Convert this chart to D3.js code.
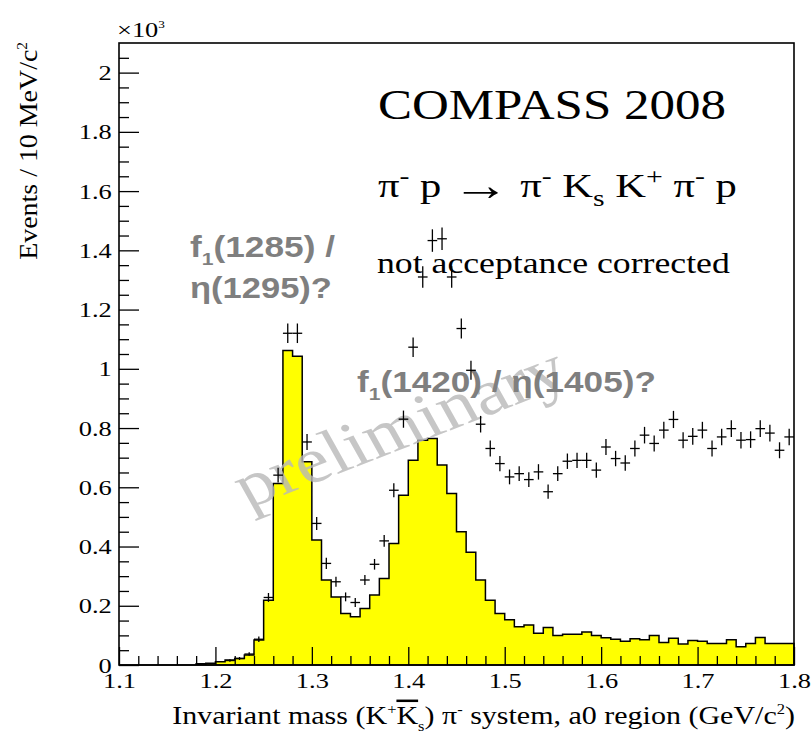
<!DOCTYPE html>
<html><head><meta charset="utf-8">
<script src="https://cdn.jsdelivr.net/npm/d3@7"></script>
<style>body{margin:0;background:#fff}</style>
</head><body>
<svg id="c" width="811" height="733"></svg>
<script>
// ---- data ----
const binLow = [1.10,1.11,1.12,1.13,1.14,1.15,1.16,1.17,1.18,1.19,1.20,1.21,1.22,1.23,1.24,1.25,1.26,1.27,1.28,1.29,
  1.30,1.31,1.32,1.33,1.34,1.35,1.36,1.37,1.38,1.39,1.40,1.41,1.42,1.43,1.44,1.45,1.46,1.47,1.48,1.49,
  1.50,1.51,1.52,1.53,1.54,1.55,1.56,1.57,1.58,1.59,1.60,1.61,1.62,1.63,1.64,1.65,1.66,1.67,1.68,1.69,
  1.70,1.71,1.72,1.73,1.74,1.75,1.76,1.77,1.78,1.79];
const binWidth = 0.01;
const histValues = [0,0,0,0,0,0,0,0,0.004,0.006,
  0.011,0.017,0.022,0.034,0.084,0.219,0.613,1.062,1.042,0.686,
  0.422,0.287,0.230,0.174,0.163,0.191,0.236,0.292,0.410,0.573,
  0.691,0.759,0.765,0.675,0.579,0.450,0.381,0.287,0.219,0.174,
  0.153,0.129,0.135,0.107,0.127,0.100,0.104,0.104,0.111,0.100,
  0.092,0.087,0.080,0.089,0.085,0.100,0.076,0.090,0.071,0.083,
  0.080,0.073,0.073,0.085,0.062,0.073,0.093,0.073,0.073,0.073];
const pointMass = [1.215,1.225,1.235,1.245,1.255,1.265,1.275,1.285,1.295,1.305,
  1.315,1.325,1.335,1.345,1.355,1.365,1.375,1.385,1.395,1.405,
  1.415,1.425,1.435,1.445,1.455,1.465,1.475,1.485,1.495,1.505,
  1.515,1.525,1.535,1.545,1.555,1.565,1.575,1.585,1.595,1.605,
  1.615,1.625,1.635,1.645,1.655,1.665,1.675,1.685,1.695,1.705,
  1.715,1.725,1.735,1.745,1.755,1.765,1.775,1.785,1.795];
const pointValues = [0.015,0.022,0.037,0.087,0.228,0.641,1.120,1.120,0.753,0.478,
  0.343,0.281,0.230,0.211,0.287,0.340,0.419,0.590,0.830,1.073,
  1.310,1.433,1.439,1.310,1.136,0.995,0.813,0.731,0.680,0.635,
  0.646,0.626,0.652,0.585,0.646,0.688,0.691,0.691,0.658,0.736,
  0.697,0.682,0.731,0.776,0.748,0.793,0.829,0.759,0.772,0.793,
  0.731,0.770,0.798,0.759,0.761,0.798,0.783,0.725,0.770];
const pointErrors = [0.004,0.005,0.006,0.009,0.015,0.025,0.033,0.033,0.027,0.022,
  0.019,0.017,0.015,0.015,0.017,0.018,0.020,0.024,0.029,0.033,
  0.036,0.038,0.038,0.036,0.034,0.032,0.028,0.027,0.026,0.025,
  0.025,0.025,0.026,0.024,0.025,0.026,0.026,0.026,0.026,0.027,
  0.026,0.026,0.027,0.028,0.027,0.028,0.029,0.027,0.028,0.028,
  0.027,0.028,0.028,0.028,0.028,0.028,0.028,0.027,0.028];
const xMajorTicks = [1.1,1.2,1.3,1.4,1.5,1.6,1.7,1.8];
const xMinorTicks = [1.12,1.14,1.16,1.18,1.22,1.24,1.26,1.28,1.32,1.34,1.36,1.38,1.42,1.44,1.46,1.48,
  1.52,1.54,1.56,1.58,1.62,1.64,1.66,1.68,1.72,1.74,1.76,1.78];
const yMajorTicks = [0,0.2,0.4,0.6,0.8,1.0,1.2,1.4,1.6,1.8,2.0];
const yMajorLabels = ["0","0.2","0.4","0.6","0.8","1","1.2","1.4","1.6","1.8","2"];
const yMinorTicks = [0.05,0.1,0.15,0.25,0.3,0.35,0.45,0.5,0.55,0.65,0.7,0.75,0.85,0.9,0.95,1.05,1.1,1.15,
  1.25,1.3,1.35,1.45,1.5,1.55,1.65,1.7,1.75,1.85,1.9,1.95,2.05];

// ---- layout ----
const L = 119, R = 794, T = 43, B = 665;
const svg = d3.select('#c');
const x = d3.scaleLinear().domain([1.1, 1.8]).range([L, R]);
const y = d3.scaleLinear().domain([0, 2.1]).range([B, T]);
const SERIF = "'Liberation Serif','Times New Roman',serif";
const SANS = "'Liberation Sans',Arial,sans-serif";

function richText(parts, o) {
  const t = svg.append('text')
    .attr('font-family', o.family).attr('font-size', o.size)
    .attr('font-weight', o.weight || 'normal').attr('fill', o.fill || '#000')
    .attr('text-anchor', o.anchor || 'start');
  if (o.opacity) t.attr('fill-opacity', o.opacity);
  let shift = 0;
  parts.forEach(p => {
    const [s, kind] = Array.isArray(p) ? p : [p, null];
    const target = kind === 'sup' ? -0.4 * o.size : kind === 'sub' ? 0.28 * o.size : 0;
    const ts = t.append('tspan').text(s).attr('dy', target - shift);
    if (kind === 'sup' || kind === 'sub') ts.attr('font-size', o.size * (o.small || 0.6));
    if (kind === 'bar') ts.style('text-decoration', 'overline');
    if (kind === 'big') ts.attr('font-size', o.size * 1.35).attr('dy', o.size * 0.08 - shift);
    shift = kind === 'big' ? o.size * 0.08 : target;
  });
  let sx = o.sx || 1;
  if (o.width) sx = o.width / t.node().getBBox().width;
  t.attr('transform', o.stretchFirst
    ? `translate(${o.x},${o.y}) scale(${sx},1) rotate(${o.rot || 0})`
    : `translate(${o.x},${o.y}) rotate(${o.rot || 0}) scale(${sx},1)`);
  return t;
}

// ---- histogram ----
const pts = [[x(binLow[0]), y(0)]];
binLow.forEach((lo, i) => {
  pts.push([x(lo), y(histValues[i])]);
  pts.push([x(lo + binWidth), y(histValues[i])]);
});
pts.push([x(binLow[binLow.length - 1] + binWidth), y(0)]);
svg.append('path').attr('d', d3.line()(pts) + 'Z')
  .attr('fill', '#ffff00').attr('stroke', '#000').attr('stroke-width', 1.5)
  .attr('stroke-linejoin', 'miter');

// ---- watermark ----
richText(['preliminary'], {x: 410, y: 446, size: 64, family: SERIF, fill: '#b8b8b8',
  opacity: 0.8, anchor: 'middle', rot: -25, sx: 1.2, stretchFirst: true});

// ---- annotations ----
richText(['COMPASS 2008'], {x: 378, y: 119, size: 42, family: SERIF, width: 348});
richText(['π', ['-', 'sup'], ' p ', ['→', 'big'], ' π', ['-', 'sup'], ' K', ['s', 'sub'], ' K', ['+', 'sup'], ' π', ['-', 'sup'], ' p'],
  {x: 378, y: 197, size: 33, family: SERIF, width: 359, small: 0.7});
richText(['not acceptance corrected'], {x: 377, y: 273, size: 30, family: SERIF, width: 353});
const grey = '#7f7f7f';
richText(['f', ['1', 'sub'], '(1285) /'], {x: 190, y: 257, size: 29, family: SANS, weight: 'bold', fill: grey, width: 145});
richText(['η(1295)?'], {x: 190, y: 298, size: 29, family: SANS, weight: 'bold', fill: grey, width: 142});
richText(['f', ['1', 'sub'], '(1420) / η(1405)?'], {x: 357, y: 392, size: 29, family: SANS, weight: 'bold', fill: grey, width: 299});

// ---- data points ----
const pg = svg.append('g').attr('stroke', '#000').attr('stroke-width', 1.3);
pointMass.forEach((m, i) => {
  pg.append('line').attr('x1', x(m - binWidth / 2)).attr('x2', x(m + binWidth / 2))
    .attr('y1', y(pointValues[i])).attr('y2', y(pointValues[i]));
  pg.append('line').attr('x1', x(m)).attr('x2', x(m))
    .attr('y1', y(pointValues[i] - pointErrors[i])).attr('y2', y(pointValues[i] + pointErrors[i]));
});

// ---- axes ----
const gx = svg.append('g').attr('transform', `translate(0,${B})`)
  .call(d3.axisBottom(x).tickValues(xMajorTicks).tickSize(-18).tickPadding(7).tickFormat(d3.format('.1f')));
const gxm = svg.append('g').attr('transform', `translate(0,${B})`)
  .call(d3.axisBottom(x).tickValues(xMinorTicks).tickSize(-9).tickFormat(''));
const gy = svg.append('g').attr('transform', `translate(${L},0)`)
  .call(d3.axisLeft(y).tickValues(yMajorTicks).tickSize(-20).tickPadding(6).tickFormat((d, i) => yMajorLabels[i]));
const gym = svg.append('g').attr('transform', `translate(${L},0)`)
  .call(d3.axisLeft(y).tickValues(yMinorTicks).tickSize(-10).tickFormat(''));
[gx, gxm, gy, gym].forEach(g => {
  g.select('.domain').remove();
  g.selectAll('line').attr('stroke', '#000').attr('stroke-width', 1.3);
  g.selectAll('text').attr('font-family', SERIF).attr('font-size', 22).attr('fill', '#000')
    .attr('transform', 'scale(1.2,1)');
});
svg.append('rect').attr('x', L).attr('y', T).attr('width', R - L).attr('height', B - T)
  .attr('fill', 'none').attr('stroke', '#000').attr('stroke-width', 1.6);

// ---- axis titles ----
richText(['×10', ['3', 'sup']], {x: 117, y: 37, size: 22, family: SERIF, sx: 1.2, small: 0.5});
richText(['Invariant mass (K', ['+', 'sup'], ['K', 'bar'], ['s', 'sub'], ') π', ['-', 'sup'], ' system, a0 region (GeV/c', ['2', 'sup'], ')'],
  {x: 795, y: 724, size: 25, family: SERIF, anchor: 'end', width: 623, small: 0.55});
richText(['Events / 10 MeV/c', ['2', 'sup']], {x: 37, y: 42, size: 25, family: SERIF, anchor: 'end', rot: -90, width: 218, small: 0.55});
</script>
</body></html>
